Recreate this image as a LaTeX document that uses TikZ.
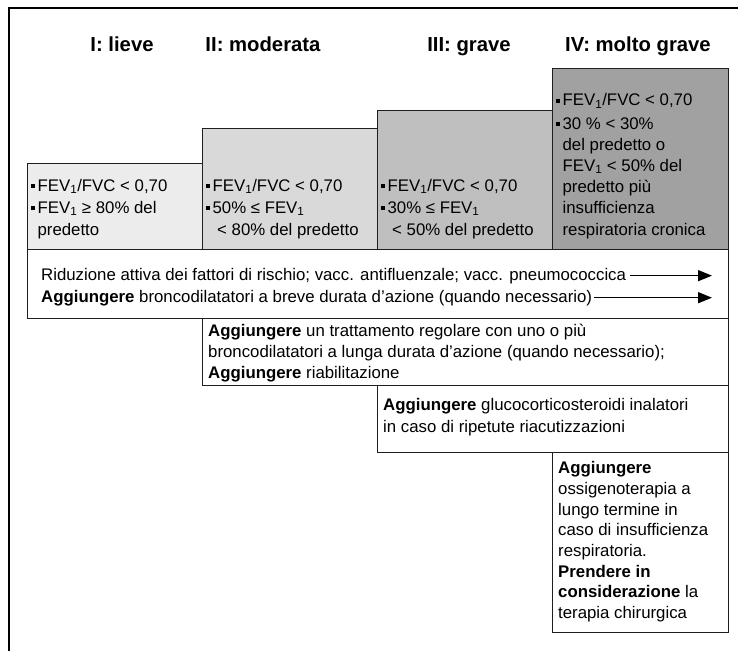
\documentclass[tikz,border=0pt]{standalone}
\usepackage{fontspec}
\setmainfont{Liberation Sans}
\usetikzlibrary{arrows.meta}
\newcommand{\bul}{\rule[0.2em]{3.8pt}{3.8pt}\hspace{2.6pt}}
\newcommand{\fev}{FEV\textsubscript{1}}
\definecolor{gI}{gray}{0.925}
\definecolor{gII}{gray}{0.85}
\definecolor{gIII}{gray}{0.75}
\definecolor{gIV}{gray}{0.63}
\definecolor{edge}{gray}{0.12}
\tikzset{
 stagebox/.style={draw=edge, line width=0.9pt, anchor=south west, inner sep=0, outer sep=0, minimum width=175pt},
 rowbox/.style={draw=edge, line width=0.9pt, fill=white, anchor=north west, inner sep=0, outer sep=0},
 hdr/.style={font=\bfseries\fontsize{20.3}{24}\selectfont, anchor=base, inner sep=0},
 txt/.style={font=\fontsize{16.8}{20}\selectfont, anchor=base west, inner sep=0},
 arr/.style={line width=1.5pt, -{Triangle[length=14pt,width=11pt]}},
 frame/.style={line width=2.6pt, black}
}
\begin{document}
\begin{tikzpicture}[x=1pt,y=-1pt]
\useasboundingbox (0,0) rectangle (738,650);
\draw[frame] (9,652) -- (9,8) -- (740,8);
% headers
\node[hdr] (h1) at (122,52) {I: lieve};
\node[hdr] (h2) at (263,52) {II: moderata};
\node[hdr] (h3) at (469,52) {III: grave};
\node[hdr] (h4) at (638,52) {IV: molto grave};
% stage boxes
\node[stagebox, fill=gI, minimum height=86pt] (b1) at (27,249) {};
\node[stagebox, fill=gII, minimum height=121pt] (b2) at (202,249) {};
\node[stagebox, fill=gIII, minimum height=139pt] (b3) at (377,249) {};
\node[stagebox, fill=gIV, minimum height=181pt, minimum width=176pt] (b4) at (552,249) {};
% box I text
\node[txt] (t1a) at (31,191) {\bul\fev/FVC < 0,70};
\node[txt] (t1b) at (31,213) {\bul\fev{} ≥ 80\% del};
\node[txt] (t1c) at (37.4,235) {predetto};
% box II text
\node[txt] (t2a) at (206,191) {\bul\fev/FVC < 0,70};
\node[txt] (t2b) at (206,213) {\bul 50\% ≤ \fev};
\node[txt] (t2c) at (217,235) {< 80\% del predetto};
% box III text
\node[txt] (t3a) at (381,191) {\bul\fev/FVC < 0,70};
\node[txt] (t3b) at (381,213) {\bul 30\% ≤ \fev};
\node[txt] (t3c) at (392,235) {< 50\% del predetto};
% box IV text
\node[txt] (t4a) at (556,106) {\bul\fev/FVC < 0,70};
\node[txt] (t4b) at (556,129) {\bul 30 \% < 30\%};
\node[txt] (t4c) at (562.4,150) {del predetto o};
\node[txt] (t4d) at (562.4,171) {\fev{} < 50\% del};
\node[txt] (t4e) at (562.4,192) {predetto più};
\node[txt] (t4f) at (562.4,213) {insufficienza};
\node[txt] (t4g) at (562.4,235) {respiratoria cronica};
% row boxes
\node[rowbox, minimum width=701pt, minimum height=69pt] (r1) at (27,249) {};
\node[rowbox, minimum width=526pt, minimum height=67pt] (r2) at (202,318) {};
\node[rowbox, minimum width=351pt, minimum height=67pt] (r3) at (377,385) {};
\node[rowbox, minimum width=176pt, minimum height=180pt] (r4) at (552,452) {};
% row 1
\node[txt] (l1a) at (41,280) {Riduzione attiva dei fattori di rischio; vacc. antifluenzale; vacc. pneumococcica};
\node[txt] (l1b) at (41,302) {\textbf{Aggiungere} broncodilatatori a breve durata d’azione (quando necessario)};
\coordinate (aend) at (712,0);
\draw[arr] ([xshift=4pt]l1a.east) -- (l1a.east -| aend);
\draw[arr] ([xshift=2pt]l1b.east) -- (l1b.east -| aend);
% row 2
\node[txt] (l2a) at (208,336) {\textbf{Aggiungere} un trattamento regolare con uno o più};
\node[txt] (l2b) at (208,357) {broncodilatatori a lunga durata d’azione (quando necessario);};
\node[txt] (l2c) at (208,378) {\textbf{Aggiungere} riabilitazione};
% row 3
\node[txt] (l3a) at (383,410) {\textbf{Aggiungere} glucocorticosteroidi inalatori};
\node[txt] (l3b) at (383,432) {in caso di ripetute riacutizzazioni};
% row 4
\node[txt] (l4a) at (558,473) {\textbf{Aggiungere}};
\node[txt] (l4b) at (558,494) {ossigenoterapia a};
\node[txt] (l4c) at (558,515) {lungo termine in};
\node[txt] (l4d) at (558,535) {caso di insufficienza};
\node[txt] (l4e) at (558,556) {respiratoria.};
\node[txt] (l4f) at (558,577) {\textbf{Prendere in}};
\node[txt] (l4g) at (558,597) {\textbf{considerazione} la};
\node[txt] (l4h) at (558,618) {terapia chirurgica};
\end{tikzpicture}
\end{document}
